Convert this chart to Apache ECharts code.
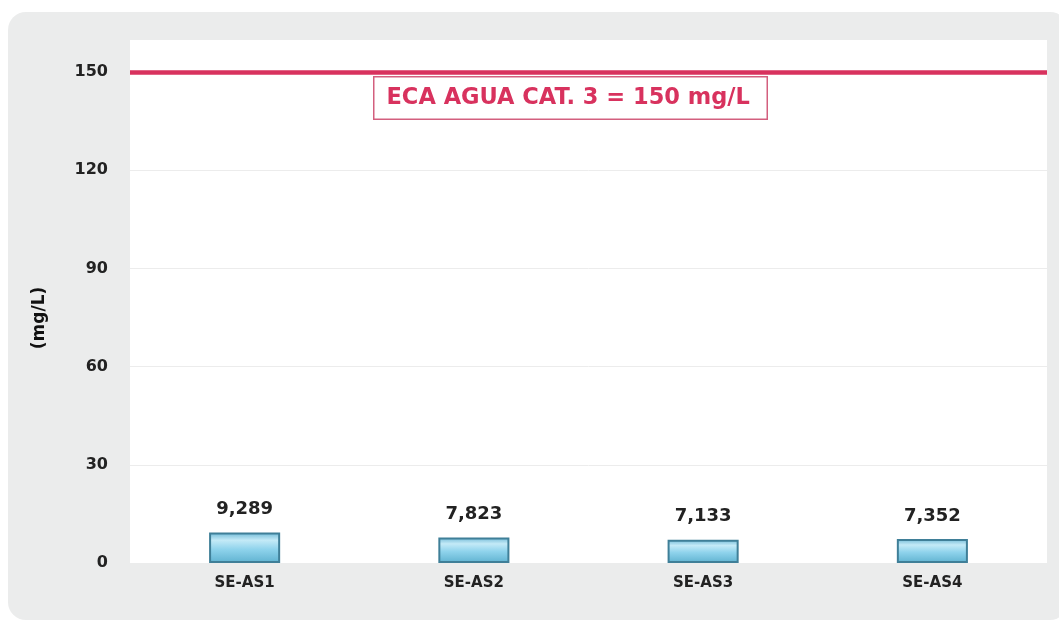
<!DOCTYPE html>
<html>
<head>
<meta charset="utf-8">
<script src="https://cdn.jsdelivr.net/npm/echarts@6/dist/echarts.min.js"></script>
<style>
  html, body { margin: 0; padding: 0; background: #fff; }
  #main { width: 1059px; height: 627px; }
</style>
</head>
<body>
<div id="main"></div>
<script>
// data
const stations = ['SE-AS1', 'SE-AS2', 'SE-AS3', 'SE-AS4'];
const values = [9.289, 7.823, 7.133, 7.352];
const yTicks = [0, 30, 60, 90, 120, 150];
const limitValue = 150;
const limitText = 'ECA AGUA CAT. 3 = 150 mg/L';
const unitLabel = '(mg/L)';

const FONT = 'DejaVu Sans';
const RED = '#d8325e';

const barColor = new echarts.graphic.LinearGradient(0, 0, 0, 1, [
  { offset: 0, color: '#6fb9d6' },
  { offset: 0.25, color: '#c4eaf7' },
  { offset: 0.55, color: '#8fd3ec' },
  { offset: 1, color: '#5fb2d0' },
]);

const option = {
  backgroundColor: '#fff',
  animation: false,
  graphic: [
    {
      type: 'rect',
      z: -10,
      shape: { x: 8, y: 12, width: 1060, height: 608, r: 18 },
      style: { fill: '#ebecec' },
    },
    {
      type: 'text',
      left: 373,
      top: 76,
      z: 10,
      style: {
        text: limitText,
        font: 'bold 22.5px "' + FONT + '"',
        fill: RED,
        backgroundColor: '#fff',
        borderColor: '#d35f7e',
        borderWidth: 1.5,
        padding: [9, 12, 9, 12],
        width: 368,
      },
    },
    {
      // y axis title, rotated
      type: 'text',
      x: 40,
      y: 318,
      rotation: Math.PI / 2,
      z: 10,
      style: {
        text: unitLabel,
        font: 'bold 17px "' + FONT + '"',
        fill: '#111',
        align: 'center',
        verticalAlign: 'middle',
      },
    },
  ],
  grid: {
    left: 130,
    right: 12,
    top: 40,
    bottom: 64,
    show: true,
    backgroundColor: '#fff',
    borderWidth: 0,
  },
  xAxis: {
    type: 'category',
    data: stations,
    axisLine: { show: false },
    axisTick: { show: false },
    axisLabel: {
      margin: 13,
      fontFamily: FONT,
      fontWeight: 'bold',
      fontSize: 15,
      color: '#222',
    },
  },
  yAxis: {
    type: 'value',
    min: yTicks[0],
    max: 159.8,
    interval: 30,
    axisLine: { show: false },
    axisTick: { show: false },
    axisLabel: {
      margin: 22,
      showMaxLabel: false,
      fontFamily: FONT,
      fontWeight: 'bold',
      fontSize: 16,
      color: '#222',
    },
    splitLine: {
      show: true,
      showMinLine: false,
      showMaxLine: false,
      lineStyle: { color: '#ececec', width: 1 },
    },
  },
  series: [
    {
      type: 'bar',
      data: values,
      barWidth: '31%',
      itemStyle: {
        color: barColor,
        borderColor: '#3f7f98',
        borderWidth: 2,
      },
      label: {
        show: true,
        position: 'top',
        distance: 14,
        fontFamily: FONT,
        fontWeight: 'bold',
        fontSize: 18,
        color: '#222',
        formatter: (p) => p.value.toFixed(3).replace('.', ','),
      },
      markLine: {
        silent: true,
        symbol: 'none',
        label: { show: false },
        lineStyle: { color: RED, width: 4.5, type: 'solid' },
        data: [{ yAxis: limitValue }],
      },
    },
  ],
};

const chart = echarts.init(document.getElementById('main'));
chart.setOption(option);
</script>
</body>
</html>
